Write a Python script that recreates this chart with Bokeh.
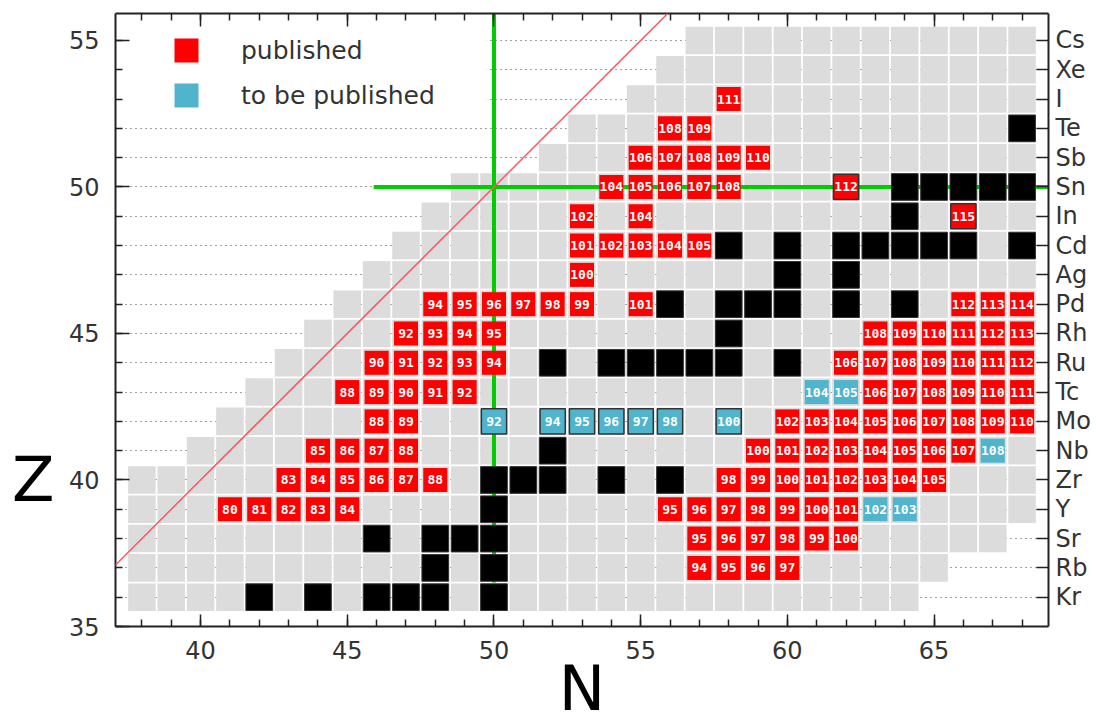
from bokeh.plotting import figure
from bokeh.models import (ColumnDataSource, Range1d, LinearAxis, SingleIntervalTicker,
                          FixedTicker, Legend, LegendItem, BoxAnnotation, Slope)
from bokeh.core.properties import value
from bokeh.embed import file_html
from bokeh.resources import INLINE

# ---------------- data ----------------
elements = ["Kr", "Rb", "Sr", "Y", "Zr", "Nb", "Mo", "Tc", "Ru", "Rh",
            "Pd", "Ag", "Cd", "In", "Sn", "Sb", "Te", "I", "Xe", "Cs"]
element_Z = [36, 37, 38, 39, 40, 41, 42, 43, 44, 45,
             46, 47, 48, 49, 50, 51, 52, 53, 54, 55]
# extent of the chart of nuclides shown (first / last neutron number per row)
chart_first_N = [38, 38, 38, 38, 38, 40, 41, 42, 43, 44,
                 45, 46, 47, 48, 49, 52, 53, 55, 56, 57]
chart_last_N = [64, 65, 67, 68, 68, 68, 68, 68, 68, 68,
                68, 68, 68, 68, 68, 68, 68, 68, 68, 68]

# stable nuclides (neutron numbers per Z)
stable_row_Z = [36, 37, 38, 39, 40, 41, 42, 44, 45, 46, 47, 48, 49, 50, 52]
stable_row_N = [
    [42, 44, 46, 47, 48, 50],
    [48, 50],
    [46, 48, 49, 50],
    [50],
    [50, 51, 52, 54, 56],
    [52],
    [50, 52, 53, 54, 55, 56, 58],
    [52, 54, 55, 56, 57, 58, 60],
    [58],
    [56, 58, 59, 60, 62, 64],
    [60, 62],
    [58, 60, 62, 63, 64, 65, 66, 68],
    [64, 66],
    [62, 64, 65, 66, 67, 68],
    [68],
]

# published mass measurements (mass numbers per Z)
published_row_Z = [37, 38, 39, 40, 41, 42, 43, 44, 45, 46, 47, 48, 49, 50, 51, 52, 53]
published_row_A = [
    [94, 95, 96, 97],
    [95, 96, 97, 98, 99, 100],
    [80, 81, 82, 83, 84, 95, 96, 97, 98, 99, 100, 101],
    [83, 84, 85, 86, 87, 88, 98, 99, 100, 101, 102, 103, 104, 105],
    [85, 86, 87, 88, 100, 101, 102, 103, 104, 105, 106, 107],
    [88, 89, 102, 103, 104, 105, 106, 107, 108, 109, 110],
    [88, 89, 90, 91, 92, 106, 107, 108, 109, 110, 111],
    [90, 91, 92, 93, 94, 106, 107, 108, 109, 110, 111, 112],
    [92, 93, 94, 95, 108, 109, 110, 111, 112, 113],
    [94, 95, 96, 97, 98, 99, 101, 112, 113, 114],
    [100],
    [101, 102, 103, 104, 105],
    [102, 104, 115],
    [104, 105, 106, 107, 108, 112],
    [106, 107, 108, 109, 110],
    [108, 109],
    [111],
]

# to be published
upcoming_row_Z = [39, 41, 42, 43]
upcoming_row_A = [
    [102, 103],
    [108],
    [92, 94, 95, 96, 97, 98, 100],
    [104, 105],
]

magic_N = 50
magic_Z = 50

# ---------------- sources ----------------
gray = dict(N=[], Z=[])
for z, n0, n1 in zip(element_Z, chart_first_N, chart_last_N):
    for n in range(n0, n1 + 1):
        gray["N"].append(n)
        gray["Z"].append(z)

stable = set()
for z, ns in zip(stable_row_Z, stable_row_N):
    for n in ns:
        stable.add((n, z))

measured = set()


def cells(rows_z, rows_a):
    plain = dict(N=[], Z=[], label=[])
    boxed = dict(N=[], Z=[], label=[])
    for z, aa in zip(rows_z, rows_a):
        for a in aa:
            n = a - z
            measured.add((n, z))
            d = boxed if (n, z) in stable else plain
            d["N"].append(n)
            d["Z"].append(z)
            d["label"].append(str(a))
    return plain, boxed


pub_plain, pub_boxed = cells(published_row_Z, published_row_A)
up_plain, up_boxed = cells(upcoming_row_Z, upcoming_row_A)

black = dict(N=[], Z=[])
for (n, z) in sorted(stable):
    if (n, z) not in measured:
        black["N"].append(n)
        black["Z"].append(z)

# ---------------- figure ----------------
X0, X1 = 37.1, 68.9
Y0, Y1 = 35.0, 55.92

p = figure(x_range=Range1d(X0, X1), y_range=Range1d(Y0, Y1),
           frame_width=933, frame_height=613,
           min_border_left=115, min_border_right=45, min_border_top=13, min_border_bottom=97,
           output_backend="svg", toolbar_location=None)
p.outline_line_color = None
p.background_fill_color = "white"
p.border_fill_color = "white"

FONT = "DejaVu Sans"
AX_COLOR = "#222222"
LBL_COLOR = "#333333"


def style_axis(ax, tin, minor_in):
    ax.axis_line_width = 2
    ax.axis_line_color = AX_COLOR
    ax.major_tick_line_color = AX_COLOR
    ax.minor_tick_line_color = AX_COLOR
    ax.major_tick_line_width = 1.5
    ax.minor_tick_line_width = 1.5
    ax.major_tick_in = tin
    ax.major_tick_out = 0
    ax.minor_tick_in = minor_in
    ax.minor_tick_out = 0
    ax.major_label_text_font = FONT
    ax.major_label_text_font_size = "24px"
    ax.major_label_text_color = LBL_COLOR


style_axis(p.xaxis[0], 12, 7)
p.xaxis[0].ticker = SingleIntervalTicker(interval=5, num_minor_ticks=5)
p.xaxis[0].major_label_standoff = 14

style_axis(p.yaxis[0], 14, 7)
p.yaxis[0].ticker = SingleIntervalTicker(interval=5, num_minor_ticks=5)
p.yaxis[0].major_label_standoff = 16

top = LinearAxis(ticker=SingleIntervalTicker(interval=5, num_minor_ticks=5),
                 major_label_overrides={t: "" for t in range(35, 75, 5)})
style_axis(top, 13, 7)
top.major_label_text_font_size = "0px"
top.major_label_standoff = 0
p.add_layout(top, "above")

right = LinearAxis(ticker=FixedTicker(ticks=element_Z),
                   major_label_overrides={z: s for z, s in zip(element_Z, elements)})
style_axis(right, 12, 0)
right.major_label_standoff = 7
p.add_layout(right, "right")

# axis titles, drawn as single labels of extra axes
z_title = LinearAxis(ticker=FixedTicker(ticks=[40]), major_label_overrides={40: "Z"})
z_title.axis_line_color = None
z_title.major_tick_line_color = None
z_title.minor_tick_line_color = None
z_title.major_label_standoff = 5
z_title.major_label_text_font = FONT
z_title.major_label_text_font_size = "62px"
z_title.major_label_text_color = "black"
p.add_layout(z_title, "left")

n_title = LinearAxis(ticker=FixedTicker(ticks=[53]), major_label_overrides={53: "N"})
n_title.axis_line_color = None
n_title.major_tick_line_color = None
n_title.minor_tick_line_color = None
n_title.major_label_standoff = -16
n_title.major_label_text_font = FONT
n_title.major_label_text_font_size = "62px"
n_title.major_label_text_color = "black"
p.add_layout(n_title, "below")

p.xgrid.visible = False
p.ygrid[0].ticker = SingleIntervalTicker(interval=1)
p.ygrid.grid_line_color = "#444444"
p.ygrid.grid_line_dash = "1 4"
p.ygrid.grid_line_width = 1

# white area behind the legend (covers only the grid)
p.add_layout(BoxAnnotation(left=X0, right=49.75, top=Y1, bottom=52.6,
                           fill_color="white", fill_alpha=1.0, line_color=None,
                           level="underlay"))

# chart background cells
p.rect(x="N", y="Z", width=0.94, height=0.94, source=ColumnDataSource(gray),
       fill_color="#dcdcdc", line_color=None)

# magic number lines
p.segment(x0=[magic_N, 45.9], y0=[36.5, magic_Z], x1=[magic_N, 69.5], y1=[56.5, magic_Z],
          line_color="#00cc00", line_width=4)

# stable nuclides
p.rect(x="N", y="Z", width=0.91, height=0.91, source=ColumnDataSource(black),
       fill_color="black", line_color="#333333", line_width=1)

RED = "#ff0000"
BLUE = "#4fb4cc"
red_r = p.rect(x="N", y="Z", width=0.82, height=0.82, source=ColumnDataSource(pub_plain),
               fill_color=RED, line_color=None)
p.rect(x="N", y="Z", width=0.86, height=0.86, source=ColumnDataSource(pub_boxed),
       fill_color=RED, line_color="#333333", line_width=1.5)
blue_r = p.rect(x="N", y="Z", width=0.82, height=0.82, source=ColumnDataSource(up_plain),
                fill_color=BLUE, line_color=None)
p.rect(x="N", y="Z", width=0.86, height=0.86, source=ColumnDataSource(up_boxed),
       fill_color=BLUE, line_color="#333333", line_width=1.5)

for d in (pub_plain, pub_boxed, up_plain, up_boxed):
    p.text(x="N", y="Z", text="label", source=ColumnDataSource(d),
           text_font=value("DejaVu Sans Mono"), text_font_style="bold",
           text_font_size="13px", text_color="white",
           text_align="center", text_baseline="middle")

# N = Z line
p.add_layout(Slope(gradient=1, y_intercept=0, line_color="#ff5555", line_width=1.5))

legend = Legend(items=[LegendItem(label="published", renderers=[red_r]),
                       LegendItem(label="to be published", renderers=[blue_r])],
                location=(56, 516), padding=0, margin=0,
                border_line_color=None, background_fill_alpha=0,
                glyph_width=30, glyph_height=30, label_height=30,
                label_standoff=40, spacing=15,
                label_text_font=FONT, label_text_font_size="25px",
                label_text_color=LBL_COLOR)
p.add_layout(legend)

open("out.html", "w").write(file_html(p, INLINE))
